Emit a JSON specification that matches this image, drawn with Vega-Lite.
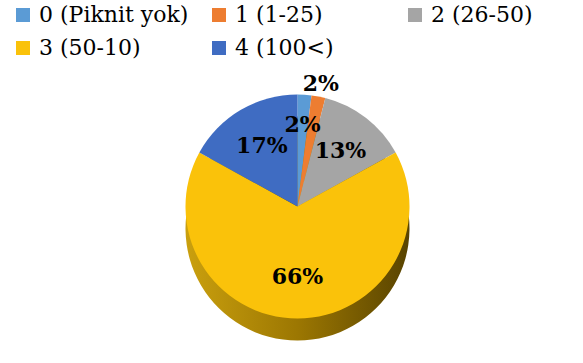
{
  "$schema": "https://vega.github.io/schema/vega-lite/v6.json",
  "width": 583,
  "height": 363,
  "autosize": {"type": "none"},
  "padding": 0,
  "background": "white",
  "config": {"legend": {"labelFont": "DejaVu Serif", "labelFontSize": 22, "labelColor": "#000000"}},
  "data": {
    "values": [
      {"idx": 0, "cat": "0 (Piknit yok)", "value": 2, "label": "2%"},
      {"idx": 1, "cat": "1 (1-25)", "value": 2, "label": "2%"},
      {"idx": 2, "cat": "2 (26-50)", "value": 13, "label": "13%"},
      {"idx": 3, "cat": "3 (50-10)", "value": 66, "label": "66%"},
      {"idx": 4, "cat": "4 (100<)", "value": 17, "label": "17%"}
    ]
  },
  "encoding": {
    "theta": {"field": "value", "type": "quantitative", "stack": true},
    "order": {"field": "idx", "type": "quantitative"}
  },
  "layer": [
    {
      "mark": {
        "type": "arc",
        "radius": 112,
        "xOffset": 6,
        "yOffset": 47,
        "fill": {
          "gradient": "linear",
          "x1": 0, "y1": 0, "x2": 1, "y2": 0,
          "stops": [
            {"offset": 0, "color": "#caa00e"},
            {"offset": 0.5, "color": "#9c7702"},
            {"offset": 1, "color": "#584300"}
          ]
        }
      },
      "encoding": {"detail": {"field": "cat", "type": "nominal"}}
    },
    {
      "mark": {"type": "arc", "radius": 112, "xOffset": 6, "yOffset": 25},
      "encoding": {
        "color": {
          "field": "cat",
          "type": "nominal",
          "scale": {
            "domain": ["0 (Piknit yok)", "1 (1-25)", "2 (26-50)", "3 (50-10)", "4 (100<)"],
            "range": ["#5b9bd5", "#ed7d31", "#a5a5a5", "#fac20a", "#3f6cc2"]
          },
          "legend": {
            "title": null,
            "orient": "none",
            "legendX": 12,
            "legendY": 4,
            "direction": "horizontal",
            "columns": 3,
            "gridAlign": "all",
            "columnPadding": 19,
            "rowPadding": 11,
            "symbolType": "square",
            "symbolSize": 196,
            "symbolStrokeWidth": 0,
            "labelOffset": 5,
            "labelLimit": 300
          }
        }
      }
    },
    {
      "mark": {
        "type": "text",
        "font": "DejaVu Serif",
        "fontWeight": "bold",
        "fontSize": 22,
        "color": "#000000",
        "xOffset": 6,
        "yOffset": 25,
        "radius": {"expr": "datum.idx === 1 ? 125 : (datum.idx === 0 ? 82 : 70)"}
      },
      "encoding": {
        "detail": {"field": "cat", "type": "nominal"},
        "text": {"field": "label", "type": "nominal"}
      }
    }
  ]
}
